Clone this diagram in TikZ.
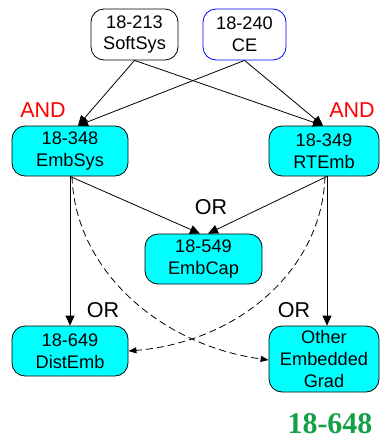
\documentclass[tikz,border=0pt]{standalone}
\usepackage{fontspec}
\setmainfont{Liberation Sans}
\newfontfamily\serifbold{Liberation Serif}
\usetikzlibrary{arrows.meta}
\definecolor{boxcyan}{RGB}{0,255,255}
\definecolor{labgreen}{RGB}{20,160,70}
\tikzset{
  course/.style={draw=black, line width=0.8pt, rounded corners=13pt, align=center,
    inner sep=0pt, font=\fontsize{18.2}{21.8}\selectfont},
  reqbox/.style={course, fill=boxcyan},
  link/.style={line width=0.8pt, -{Triangle[length=10pt,width=9pt]}},
  optlink/.style={line width=0.8pt, dash pattern=on 7pt off 4pt, -{Triangle[length=8pt,width=6pt]}},
  andlab/.style={text=red, font=\fontsize{21.5}{24}\selectfont, inner sep=0pt},
  orlab/.style={text=black, font=\fontsize{21.5}{24}\selectfont, inner sep=0pt}
}
\begin{document}
\begin{tikzpicture}[x=1pt,y=-1pt]
\useasboundingbox (0,0) rectangle (380,439);
\node[course, minimum width=87pt, minimum height=51pt] (ss) at (134.5,34.5) {18-213\\SoftSys};
\node[course, draw=blue, minimum width=83pt, minimum height=51pt] (ce) at (244.5,34.5) {18-240\\CE};
\node[reqbox, minimum width=116pt, minimum height=50pt] (es) at (70,151) {18-348\\EmbSys};
\node[reqbox, minimum width=110pt, minimum height=50pt] (rt) at (324,151) {18-349\\RTEmb};
\node[reqbox, minimum width=117pt, minimum height=50pt] (ec) at (203.5,259) {18-549\\EmbCap};
\node[reqbox, minimum width=116pt, minimum height=50pt] (de) at (70,351) {18-649\\DistEmb};
\node[reqbox, minimum width=110pt, minimum height=66pt] (og) at (324,359) {Other\\Embedded\\Grad};

\node[andlab] (and1) at (43,110) {AND};
\node[andlab] (and2) at (352,110) {AND};
\node[orlab] (or1) at (211,207) {OR};
\node[orlab] (or2) at (103,310) {OR};
\node[orlab] (or3) at (294,310) {OR};
\node[text=labgreen, font=\serifbold\bfseries\fontsize{30}{32}\selectfont, inner sep=0pt] (num) at (330,424) {18-648};

\draw[link] (ss.south) -- ([xshift=8pt]es.north);
\draw[link] (ce.south) -- ([xshift=8pt]es.north);
\draw[link] (ss.south) -- ([xshift=-1pt]rt.north);
\draw[link] (ce.south) -- ([xshift=-1pt]rt.north);

\draw[link] (es.south) -- (de.north);
\draw[link] (es.south) -- ([xshift=-3.5pt]ec.north);
\draw[link] ([xshift=3pt]rt.south) -- ([xshift=4.5pt]ec.north);
\draw[link] ([xshift=3pt]rt.south) -- ([xshift=3pt]og.north);

\draw[optlink] ([xshift=2pt]es.south) .. controls (75,270) and (160,345) .. ([yshift=-1pt]og.west);
\draw[optlink] ([xshift=1pt]rt.south) .. controls (322,270) and (238,342) .. (de.east);
\end{tikzpicture}
\end{document}
